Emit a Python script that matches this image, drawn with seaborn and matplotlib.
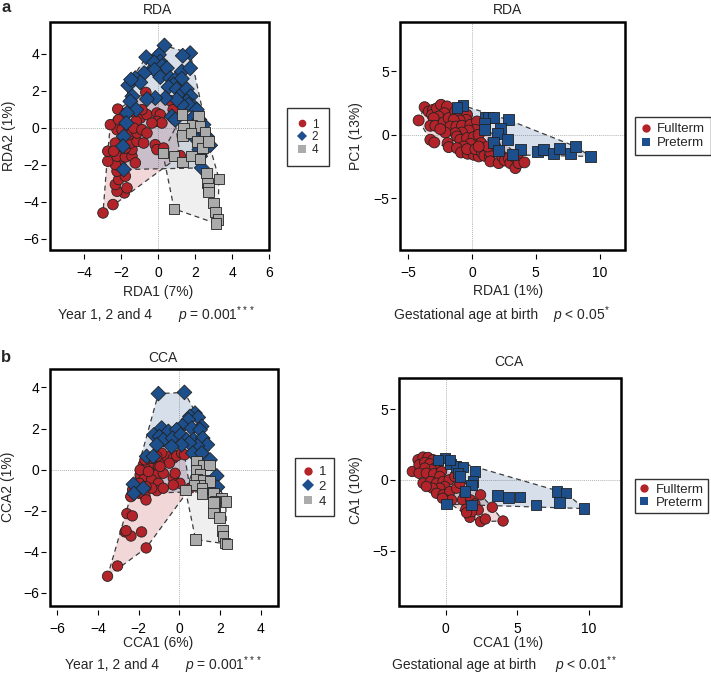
import numpy as np
import pandas as pd
import matplotlib
matplotlib.use("Agg")
import matplotlib.pyplot as plt
import seaborn as sns
from matplotlib.lines import Line2D
from matplotlib.patches import Rectangle

sns.set_style("white")
plt.rcParams["font.family"] = ["Liberation Sans", "DejaVu Sans"]
plt.rcParams["mathtext.fontset"] = "custom"
plt.rcParams["mathtext.rm"] = "Liberation Sans"
plt.rcParams["mathtext.it"] = "Liberation Sans:italic"

RED = "#B3242A"
BLUE = "#1C4F8C"
GRAY = "#ABABAB"

# ---- a, left: RDA by year ----
rda_y1_x = [-2.99, -2.45, -1.83, -2.23, -1.69, -2.32, -2.14, -1.78, -2.23, -2.01, -2.32, -2.73, -2.23, -1.78,
            -1.42, -1.24, -1.42, -1.78, -2.05, -2.32, -2.73, -2.41, -1.51, -1.15, -0.79, -1.6, -1.15, -2.23,
            -2.59, -2.14, -2.19, -1.73, -1.42, -1.24, -0.97, -1.19, -0.61, -0.07, 0.11, -0.07, 0.2, -0.34,
            -0.88, -0.67, 0.63, 0.81, -0.16, -0.07, 0.29, 1.19, -1.96, -1.33, -0.88, -0.61]
rda_y1_y = [-4.6, -4.15, -3.52, -3.43, -3.25, -3.07, -2.8, -2.62, -2.35, -2.08, -1.99, -1.81, -1.54, -1.58,
            -1.54, -1.9, -1.18, -1.1, -1.0, -0.83, -1.27, -1.27, -0.83, -0.74, -0.83, -0.38, -0.29, -0.11,
            0.16, 0.43, 1.0, 0.79, 0.88, 0.79, 0.52, 0.34, 0.7, 0.79, 0.7, 0.34, 0.25, 0.25,
            0.97, 1.9, 1.47, 0.97, -0.92, -1.18, -1.1, -1.51, -0.11, -0.02, -0.11, -0.29]
rda_y2_x = [0.34, -0.65, 1.73, 1.33, 0.04, 0.11, -0.25, -0.22, 0.22, 0.47, -0.2, -0.76, -1.24, -0.97, -1.62,
            -1.47, 0.11, 0.65, 0.92, 1.28, 1.73, 1.28, 0.83, 0.56, 1.0, 1.33, 1.55, 1.76, 1.55, 1.91, 1.64,
            2.09, 1.28, 1.0, 0.38, -0.16, -0.61, -1.4, -1.51, -1.19, -1.69, -1.73, -1.87, -1.91, -1.87,
            0.74, 0.92, 1.87, 2.23, 2.45, 2.36, 2.63, 2.09, 2.27, 2.81, 2.27, 2.36, 2.23]
rda_y2_y = [4.43, 3.8, 4.02, 3.88, 3.93, 3.57, 3.21, 3.52, 3.34, 3.21, 3.12, 2.94, 2.67, 2.44, 2.28,
            2.59, 2.73, 2.67, 2.59, 3.03, 3.21, 2.64, 2.32, 2.19, 2.08, 1.87, 2.08, 1.69, 1.42, 1.15, 1.24,
            0.97, 1.24, 1.51, 1.6, 1.6, 1.54, 1.69, 1.42, 0.97, 0.79, 0.25, -0.47, -1.0, -2.26,
            0.61, 0.43, 0.52, 0.43, 0.16, -0.2, -0.47, -0.65, -1.0, -0.95, -1.54, -2.17, -1.18]
rda_y4_x = [1.28, 2.18, 1.82, 2.27, 1.37, 1.33, 1.78, 2.54, 2.12, 2.41, 2.72, 0.25, 0.86, 1.31, 1.8, 2.27,
            2.63, 2.66, 2.72, 2.72, 3.29, 3.0, 3.1, 3.23, 3.14, 0.86]
rda_y4_y = [0.7, 0.61, 0.11, 0.07, -0.02, -0.43, -0.29, -0.25, -0.74, -1.1, -0.74, -1.36, -1.54, -1.85, -1.54,
            -1.69, -2.44, -2.98, -3.25, -3.48, -2.76, -4.06, -4.56, -4.95, -5.17, -4.38]

# ---- a, right: RDA by gestational age ----
rda_full_x = [-4.19, -3.72, -3.4, -3.06, -3.14, -2.75, -2.43, -1.96, -2.17, -2.62, -3.01, -3.27, -2.88, -2.23,
              -1.83, -1.31, -0.92, -0.39, -0.45, -0.97, -1.44, -1.7, -1.23, -0.79, -0.13, 0.39, 0.26, -0.26,
              -0.79, -1.31, -2.09, -2.49, -3.27, -2.96, -1.91, -1.83, -1.18, -0.92, -0.39, 0.13, 0.52, 0.71,
              -0.13, -0.65, -1.18, -0.86, -0.34, 0.13, 0.52, -0.39, 0.26, 0.79, 0.97, 1.39, 1.44, 1.44,
              2.09, 2.36, 2.57, 2.88, 3.01, 3.27, 3.59, 3.4, 3.66, 4.11, 1.83, 1.23, 0.52]
rda_full_y = [1.13, 2.17, 1.83, 1.96, 1.57, 2.09, 2.36, 2.23, 1.7, 1.44, 1.31, 0.71, 0.71, 0.97,
              1.31, 1.83, 1.57, 1.57, 1.18, 1.13, 1.18, 0.65, 0.65, 0.71, 0.79, 1.05, 0.39, 0.34,
              0.18, 0.13, 0.18, 0.45, -0.39, -0.6, -0.65, -0.97, -0.13, -0.39, -0.26, -0.18, 0.0, -0.65,
              -0.71, -0.92, -1.05, -1.39, -1.49, -1.57, -1.7, -1.13, -1.13, -1.39, -1.65, -1.7, -1.39, -2.09,
              -2.23, -1.7, -2.02, -1.83, -2.23, -1.7, -1.57, -2.62, -2.23, -2.17, -0.92, -0.92, -0.92]
rda_pre_x = [-0.71, -1.18, 1.05, 1.31, 1.65, 0.97, 0.97, 2.83, 2.23, 2.02, 2.75, 1.7, 2.09, 3.8, 5.16, 5.63,
             6.36, 6.89, 7.72, 8.12, 9.29, 3.2]
rda_pre_y = [2.3, 2.15, 1.39, 1.39, 1.39, 0.92, 0.45, 1.18, 0.52, 0.13, -0.34, -0.6, -1.23, -1.18, -1.31, -1.18,
             -1.49, -1.1, -1.49, -0.92, -1.7, -1.58]

# ---- b, left: CCA by year ----
cca_y1_x = [-3.53, -3.04, -1.63, -2.67, -2.38, -2.62, -1.86, -2.58, -2.31, -2.39, -1.97, -1.69, -1.64, -2.3,
            -1.77, -1.52, -1.25, -1.03, -0.79, -0.62, -0.87, -1.11, -1.36, -0.3, -0.13, 0.11, 0.25, -0.49,
            -1.44, -1.11, -0.79, -1.93, -1.74, -1.36, -1.03, -0.3, -0.21, 0.03, -0.3, -1.11, -1.36, -1.64,
            -0.79, 0.52, -1.97, -1.69, -1.93, -1.52, -0.95]
cca_y1_y = [-5.2, -4.7, -3.82, -3.04, -3.24, -2.98, -3.04, -2.15, -2.26, -1.32, -1.16, -1.29, -1.48, -0.99,
            0.23, 0.15, 0.31, 0.15, 0.47, 0.64, 0.8, 0.64, 0.55, 0.55, 0.67, 0.8, 0.72, 0.31,
            -0.18, -0.26, -0.18, -0.26, -0.47, -0.5, -0.67, -0.42, -0.18, -0.67, -0.75, -1.03, -0.91, -0.83,
            -0.91, -0.91, -0.67, 0.47, -0.02, -0.1, 0.15]
cca_y2_x = [-1.03, 0.25, 0.77, 0.52, 0.93, 0.44, 0.16, 1.1, 0.61, 1.02, -0.87, -0.54, -0.13, -1.25, -0.98,
            -0.79, -0.33, 0.07, 0.36, 0.69, 1.15, 1.38, 0.89, 0.49, 0.11, -0.38, -1.11, -1.61, -1.28, 0.66,
            1.1, 1.51, 1.84, 1.87, 1.59, -2.26, -2.23, -1.77]
cca_y2_y = [3.7, 3.76, 2.75, 2.59, 2.54, 2.43, 2.13, 2.1, 2.02, 1.94, 2.02, 1.86, 1.94, 1.69, 1.61,
            1.45, 1.53, 1.69, 1.45, 1.45, 1.53, 1.21, 1.16, 1.29, 1.21, 1.12, 1.21, 0.64, 0.64, 0.8,
            0.8, 0.47, -0.31, -0.86, -1.07, -0.72, -1.16, -0.91]
cca_y4_x = [0.85, 1.15, 1.48, 0.82, 1.02, 0.85, 1.18, 1.51, 1.02, 0.72, 1.1, 1.1, 1.67, 2.08, 2.28, 1.75,
            1.75, 1.67, 1.97, 2.13, 2.16, 2.25, 2.33, 0.8, 1.67, 0.3]
cca_y4_y = [0.39, 0.23, 0.23, -0.02, -0.21, -0.47, -0.54, -0.59, -0.75, -0.75, -0.91, -1.16, -1.16, -1.4, -1.56,
            -1.56, -1.97, -2.1, -2.33, -2.98, -3.24, -3.57, -3.63, -3.41, -1.61, -1.0]

# ---- b, right: CCA by gestational age ----
cca_full_x = [-1.94, -2.34, -1.59, -1.24, -0.89, -1.87, -1.47, -1.12, -0.54, -0.77, -1.0, -1.47, -1.87, -1.36,
              -0.84, -0.3, -0.42, -1.59, -1.07, -0.65, -0.19, 0.23, 0.63, -0.07, -0.42, -0.93, -1.36, -0.65,
              -0.19, 0.28, 0.75, 0.98, 0.0, 0.4, -0.23, 1.33, 1.17, 1.73, 2.43, 2.03, 1.4, 2.27,
              1.68, 2.43, 2.76, 3.25, 4.0, 1.8, 1.45]
cca_full_y = [1.42, 0.59, 1.61, 1.58, 1.42, 1.06, 1.23, 1.13, 1.13, 0.83, 0.71, 0.83, 0.47, 0.47,
              0.43, 0.59, 0.24, -0.24, -0.12, -0.24, -0.12, 0.0, 0.24, -0.47, -0.59, -0.59, -0.47, -0.95,
              -1.06, -0.83, -0.59, -0.24, -1.42, -1.42, -1.3, -1.06, -1.42, -1.42, -1.06, -1.7, -2.08, -2.13,
              -2.65, -2.95, -2.77, -1.94, -2.91, -2.25, -2.32]
cca_pre_x = [-0.07, -0.54, 0.33, 0.7, 1.21, 0.86, 0.98, 2.03, 1.92, 1.8, 1.33, 1.8, 3.6, 4.37, 5.19, 6.29,
             7.76, 8.41, 7.94, 9.67, 0.28, 0.05]
cca_pre_y = [1.54, 1.42, 1.13, 0.95, 0.9, 0.47, 0.24, 0.59, -0.12, -0.35, -0.83, -1.77, -1.11, -1.25, -1.23, -1.77,
             -0.83, -0.95, -1.61, -2.03, 1.42, -1.72]

year_labels = ["1", "2", "4"]
term_labels = ["Fullterm", "Preterm"]

W, H = 711, 677


def fx(px):
    return px / W


def fy(py):
    return 1 - py / H


def convex_hull(x, y):
    pts = sorted(set(zip(x, y)))

    def cross(o, a, b):
        return (a[0] - o[0]) * (b[1] - o[1]) - (a[1] - o[1]) * (b[0] - o[0])

    lower, upper = [], []
    for p in pts:
        while len(lower) >= 2 and cross(lower[-2], lower[-1], p) <= 0:
            lower.pop()
        lower.append(p)
    for p in reversed(pts):
        while len(upper) >= 2 and cross(upper[-2], upper[-1], p) <= 0:
            upper.pop()
        upper.append(p)
    return np.array(lower[:-1] + upper[:-1])


def draw_panel(ax, groups, labels, colors, markers, size, xlim, ylim, xticks, yticks):
    frames = []
    for (gx, gy), lab in zip(groups, labels):
        frames.append(pd.DataFrame({"x": gx, "y": gy, "grp": lab}))
    df = pd.concat(frames, ignore_index=True)

    ax.axhline(0, color="#b5b5b5", lw=0.7, ls=(0, (1, 1)), zorder=0)
    ax.axvline(0, color="#b5b5b5", lw=0.7, ls=(0, (1, 1)), zorder=0)

    for (gx, gy), c in zip(groups, colors):
        h = convex_hull(gx, gy)
        ax.fill(h[:, 0], h[:, 1], color=c, alpha=0.18, lw=0, zorder=1)
        hc = np.vstack([h, h[:1]])
        ax.plot(hc[:, 0], hc[:, 1], color="#3c3c3c", lw=0.9, ls=(0, (4, 3)), zorder=2)

    sns.scatterplot(data=df, x="x", y="y", hue="grp", style="grp",
                    palette=dict(zip(labels, colors)), markers=dict(zip(labels, markers)),
                    s=size, edgecolor="#222222", linewidth=0.6, legend=False, ax=ax, zorder=3)

    ax.set_xlim(*xlim)
    ax.set_ylim(*ylim)
    ax.set_xticks(xticks)
    ax.set_yticks(yticks)
    ax.set_xlabel("")
    ax.set_ylabel("")
    for sp in ax.spines.values():
        sp.set_visible(False)
    ax.spines["bottom"].set_position(("outward", 3))
    ax.spines["left"].set_position(("outward", 3))
    ax.add_patch(Rectangle((0, 0), 1, 1, transform=ax.transAxes, fill=False,
                           lw=1.8, ec="black", clip_on=False, zorder=5))
    ax.tick_params(axis="x", direction="out", length=3.5, width=0.8, labelsize=10, pad=5,
                   bottom=True, colors="black")
    ax.tick_params(axis="y", direction="out", length=3.5, width=0.8, labelsize=10, pad=1.5,
                   left=True, colors="black")


def add_legend(fig, labels, colors, markers, ms, pos, fontsize, spacing, borderpad):
    handles = [Line2D([], [], marker=m, ls="", color=c, markersize=ms, markeredgewidth=0)
               for c, m in zip(colors, markers)]
    leg = fig.legend(handles, labels, loc="upper left", bbox_to_anchor=(fx(pos[0]), fy(pos[1])),
                     frameon=True, fancybox=False, fontsize=fontsize, handlelength=0.7,
                     handletextpad=0.5, labelspacing=spacing, borderpad=borderpad,
                     borderaxespad=0)
    leg.get_frame().set_edgecolor("#333333")
    leg.get_frame().set_linewidth(1.0)
    leg.get_frame().set_alpha(1)


fig = plt.figure(figsize=(7.11, 6.77), dpi=100)

ax1 = fig.add_axes([fx(50), fy(250), 219 / W, 228 / H])
ax2 = fig.add_axes([fx(400), fy(250), 225 / W, 228 / H])
ax3 = fig.add_axes([fx(50), fy(606), 228 / W, 237 / H])
ax4 = fig.add_axes([fx(399), fy(606), 222 / W, 228 / H])

yr_colors = [RED, BLUE, GRAY]
yr_markers = ["o", "D", "s"]
gt_colors = [RED, BLUE]
gt_markers = ["o", "s"]

draw_panel(ax1, [(rda_y1_x, rda_y1_y), (rda_y2_x, rda_y2_y), (rda_y4_x, rda_y4_y)],
           year_labels, yr_colors, yr_markers, 58, (-5.86, 6.0), (-6.6, 5.7),
           [-4, -2, 0, 2, 4, 6], [-6, -4, -2, 0, 2, 4])
draw_panel(ax2, [(rda_full_x, rda_full_y), (rda_pre_x, rda_pre_y)],
           term_labels, gt_colors, gt_markers, 62, (-5.65, 12.0), (-9.06, 8.87),
           [-5, 0, 5, 10], [-5, 0, 5])
draw_panel(ax3, [(cca_y1_x, cca_y1_y), (cca_y2_x, cca_y2_y), (cca_y4_x, cca_y4_y)],
           year_labels, yr_colors, yr_markers, 56, (-6.36, 4.85), (-6.65, 4.9),
           [-6, -4, -2, 0, 2, 4], [-6, -4, -2, 0, 2, 4])
draw_panel(ax4, [(cca_full_x, cca_full_y), (cca_pre_x, cca_pre_y)],
           term_labels, gt_colors, gt_markers, 56, (-3.27, 12.24), (-8.92, 7.2),
           [0, 5, 10], [-5, 0, 5])

fs = 10
# panel letters and titles
fig.text(fx(1), fy(7), "a", fontsize=12, fontweight="bold", va="center", ha="left")
fig.text(fx(1), fy(357), "b", fontsize=12, fontweight="bold", va="center", ha="left")
fig.text(fx(158), fy(10), "RDA", fontsize=fs, ha="center", va="center")
fig.text(fx(508), fy(10), "RDA", fontsize=fs, ha="center", va="center")
fig.text(fx(163), fy(358), "CCA", fontsize=fs, ha="center", va="center")
fig.text(fx(509), fy(362), "CCA", fontsize=fs, ha="center", va="center")

# axis labels
fig.text(fx(158), fy(292), "RDA1 (7%)", fontsize=fs, ha="center", va="center")
fig.text(fx(508), fy(291), "RDA1 (1%)", fontsize=fs, ha="center", va="center")
fig.text(fx(158), fy(643), "CCA1 (6%)", fontsize=fs, ha="center", va="center")
fig.text(fx(508), fy(643), "CCA1 (1%)", fontsize=fs, ha="center", va="center")
fig.text(fx(9), fy(136), "RDA2 (1%)", fontsize=fs, ha="center", va="center", rotation=90)
fig.text(fx(356), fy(136), "PC1 (13%)", fontsize=fs, ha="center", va="center", rotation=90)
fig.text(fx(8), fy(487), "CCA2 (1%)", fontsize=fs, ha="center", va="center", rotation=90)
fig.text(fx(356), fy(490), "CA1 (10%)", fontsize=fs, ha="center", va="center", rotation=90)

# test statistics
fig.text(fx(58), fy(315), "Year 1, 2 and 4", fontsize=fs, ha="left", va="center")
fig.text(fx(178), fy(315), r"$p$ = 0.001$^{***}$", fontsize=fs, ha="left", va="center")
fig.text(fx(394), fy(315), "Gestational age at birth", fontsize=fs, ha="left", va="center")
fig.text(fx(553), fy(315), r"$p$ < 0.05$^{*}$", fontsize=fs, ha="left", va="center")
fig.text(fx(65), fy(665), "Year 1, 2 and 4", fontsize=fs, ha="left", va="center")
fig.text(fx(185), fy(665), r"$p$ = 0.001$^{***}$", fontsize=fs, ha="left", va="center")
fig.text(fx(392), fy(665), "Gestational age at birth", fontsize=fs, ha="left", va="center")
fig.text(fx(555), fy(665), r"$p$ < 0.01$^{**}$", fontsize=fs, ha="left", va="center")

# legends
add_legend(fig, year_labels, yr_colors, yr_markers, 5.5, (287, 108), 8.5, 0.05, 0.9)
add_legend(fig, term_labels, gt_colors, gt_markers, 6.0, (635, 117), 9.5, 0.15, 0.45)
add_legend(fig, year_labels, yr_colors, yr_markers, 6.0, (295, 458), 9.5, 0.2, 0.6)
add_legend(fig, term_labels, gt_colors, gt_markers, 6.0, (635, 479), 9.5, 0.05, 0.35)

fig.savefig("out.png", dpi=100)
